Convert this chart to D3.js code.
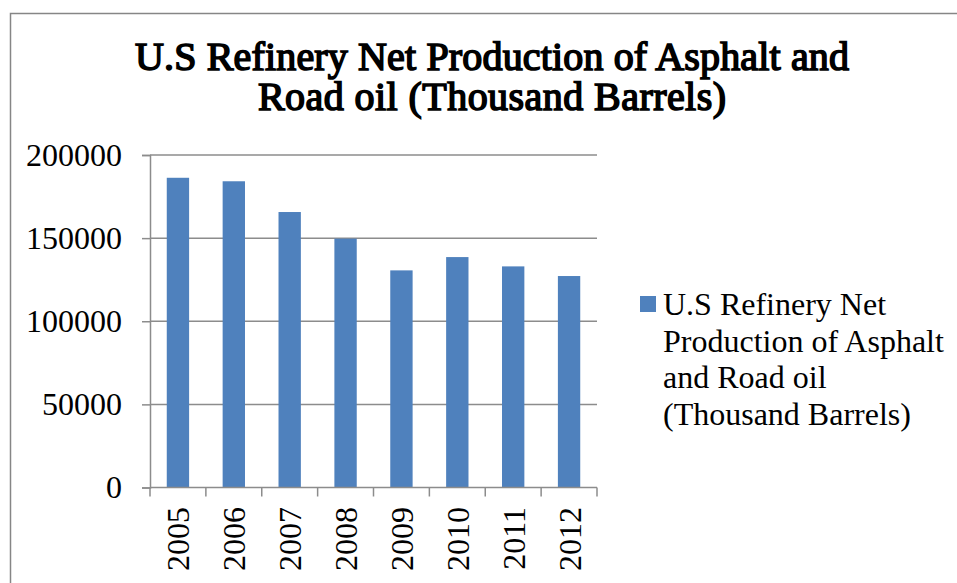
<!DOCTYPE html>
<html>
<head>
<meta charset="utf-8">
<script src="https://cdn.jsdelivr.net/npm/d3@7"></script>
<style>
  body { margin: 0; background: #fff; }
  svg text { font-family: "Liberation Serif", "Times New Roman", serif; }
</style>
</head>
<body>
<div id="visSpace"></div>
<script>
//Chart data
var years = ["2005", "2006", "2007", "2008", "2009", "2010", "2011", "2012"];
var production = [186300, 184200, 165700, 149700, 130600, 138600, 133000, 127200];
var yTicks = [0, 50000, 100000, 150000, 200000];
var titleLines = ["U.S Refinery Net Production of Asphalt and", "Road oil (Thousand Barrels)"];
var legendLines = ["U.S Refinery Net", "Production of Asphalt", "and Road oil", "(Thousand Barrels)"];

var width = 957, height = 583;
//Plot area
var plot = {left: 150, right: 597, top: 155, bottom: 487.5};
var barColor = "#4f81bd";
var lineColor = "#8c8c8c";
var fontSize = 32;

var svg = d3.select("#visSpace")
            .append("svg")
            .attr("width", width)
            .attr("height", height);

//Outer chart frame (runs past the picture on the right and bottom)
svg.append("rect")
   .attr("x", 10.5)
   .attr("y", 13.5)
   .attr("width", 1000)
   .attr("height", 1000)
   .attr("fill", "none")
   .attr("stroke", "#868686")
   .attr("stroke-width", 1.5);

//Title - bold serif face is drawn with a stroke so it stays a Times-like serif
var titleWidths = [714, 468];
svg.append("g")
   .selectAll("text")
   .data(titleLines)
   .enter()
   .append("text")
   .attr("x", 492)
   .attr("y", function(d, i){ return 69.5 + i * 40.5; })
   .attr("text-anchor", "middle")
   .attr("font-size", "40px")
   .attr("fill", "#000")
   .attr("stroke", "#000")
   .attr("stroke-width", 1.6)
   .attr("textLength", function(d, i){ return titleWidths[i]; })
   .attr("lengthAdjust", "spacing")
   .text(function(d){ return d; });

//Scales
var x = d3.scaleBand()
          .domain(years)
          .range([plot.left, plot.right])
          .paddingInner(0.6)
          .paddingOuter(0.3);
var y = d3.scaleLinear()
          .domain([0, 200000])
          .range([plot.bottom, plot.top]);

//Gridlines
svg.append("g")
   .selectAll("line")
   .data(yTicks.filter(function(d){ return d > 0; }))
   .enter()
   .append("line")
   .attr("x1", plot.left)
   .attr("x2", plot.right)
   .attr("y1", function(d){ return y(d); })
   .attr("y2", function(d){ return y(d); })
   .attr("stroke", lineColor)
   .attr("stroke-width", 1.5);

//Bars
svg.append("g")
   .selectAll("rect")
   .data(production)
   .enter()
   .append("rect")
   .attr("x", function(d, i){ return x(years[i]); })
   .attr("y", function(d){ return y(d); })
   .attr("width", x.bandwidth())
   .attr("height", function(d){ return y(0) - y(d); })
   .attr("fill", barColor);

//Y axis
var yAxis = d3.axisLeft(y)
              .tickValues(yTicks)
              .tickSize(8)
              .tickPadding(20)
              .tickFormat(d3.format("d"));
var yg = svg.append("g")
            .attr("transform", "translate(" + plot.left + ",0)")
            .call(yAxis);

//X axis: ticks sit on the band boundaries
var step = x.step();
var xBoundaries = d3.range(years.length + 1).map(function(i){
  return plot.left + i * step;
});
var xg = svg.append("g");
xg.append("line")
  .attr("x1", plot.left)
  .attr("x2", plot.right)
  .attr("y1", plot.bottom)
  .attr("y2", plot.bottom)
  .attr("stroke", lineColor)
  .attr("stroke-width", 1.5);
xg.selectAll(".tick")
  .data(xBoundaries)
  .enter()
  .append("line")
  .attr("x1", function(d){ return d; })
  .attr("x2", function(d){ return d; })
  .attr("y1", plot.bottom)
  .attr("y2", plot.bottom + 9)
  .attr("stroke", lineColor)
  .attr("stroke-width", 1.5);
xg.selectAll("text")
  .data(years)
  .enter()
  .append("text")
  .attr("transform", function(d){
    return "translate(" + (x(d) + x.bandwidth() / 2 + 11.5) + "," + 507 + ") rotate(-90)";
  })
  .attr("text-anchor", "end")
  .attr("font-size", fontSize + "px")
  .attr("fill", "#000")
  .text(function(d){ return d; });

yg.select(".domain")
  .attr("stroke", lineColor)
  .attr("stroke-width", 1.5);
yg.selectAll(".tick line")
  .attr("stroke", lineColor)
  .attr("stroke-width", 1.5);
yg.selectAll(".tick text")
  .attr("font-size", fontSize + "px")
  .attr("font-family", "Liberation Serif, Times New Roman, serif")
  .attr("fill", "#000");

//Legend
var legend = svg.append("g");
legend.append("rect")
      .attr("x", 640)
      .attr("y", 296)
      .attr("width", 16)
      .attr("height", 16)
      .attr("fill", barColor);
legend.selectAll("text")
      .data(legendLines)
      .enter()
      .append("text")
      .attr("x", 663)
      .attr("y", function(d, i){ return 315 + i * 36.7; })
      .attr("font-size", fontSize + "px")
      .attr("fill", "#000")
      .text(function(d){ return d; });
</script>
</body>
</html>
